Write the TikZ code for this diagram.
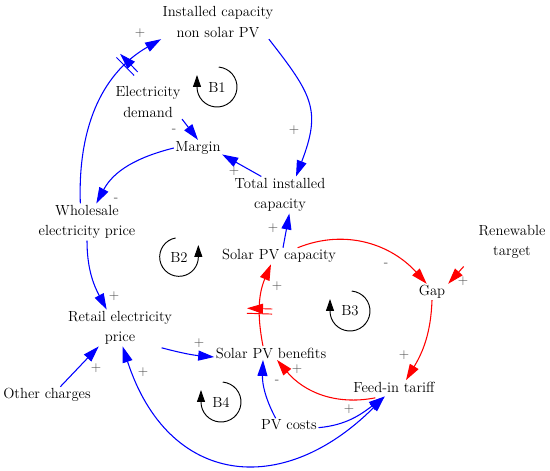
\documentclass[tikz,border=0pt]{standalone}
\usetikzlibrary{arrows.meta,decorations.markings}

\tikzset{
  var/.style={align=center, inner sep=1pt, font=\fontsize{11}{15.5}\selectfont},
  sgn/.style={inner sep=0pt, text=black!70, font=\fontsize{10}{12}\selectfont},
  link/.style={draw=blue, line width=0.8pt, -{Triangle[length=12pt,width=7.5pt]}},
  redlink/.style={link, draw=red},
  loopsym/.style={draw=black, line width=0.7pt, -{Triangle[length=9pt,width=6pt]}},
  delaymark/.style 2 args={postaction={decorate, decoration={markings, mark=at position #1 with {
      \draw[draw=#2, line width=0.7pt] (-1.9pt,-9.5pt) -- (-1.9pt,9.5pt) (1.9pt,-9.5pt) -- (1.9pt,9.5pt);}}}},
}

\begin{document}
\begin{tikzpicture}[x=0.75pt,y=0.75pt]
\useasboundingbox (0,0) rectangle (550,471);

% Variables
\node[var] (inst) at (218,449) {Installed capacity\\non solar PV};
\node[var] (dem) at (148,369) {Electricity\\demand};
\node[var] (mar) at (198,323) {Margin};
\node[var] (tot) at (280,276) {Total installed\\capacity};
\node[var] (wsp) at (87,249) {Wholesale\\electricity price};
\node[var] (spc) at (279,215) {Solar PV capacity};
\node[var] (ren) at (512,229) {Renewable\\target};
\node[var] (gap) at (432,179) {Gap};
\node[var] (rep) at (120,143) {Retail electricity\\price};
\node[var] (spb) at (271,118) {Solar PV benefits};
\node[var] (fit) at (394,84) {Feed-in tariff};
\node[var] (oth) at (47,76) {Other charges};
\node[var] (pvc) at (289,46) {PV costs};

% Loop markers
\node[var] (b1) at (217,384) {B1};
\node[var] (b2) at (179,214) {B2};
\node[var] (b3) at (350,160) {B3};
\node[var] (b4) at (221,69) {B4};
\draw[loopsym] ([shift={(85:15pt)}]b1.center) arc[start angle=85, end angle=-180, radius=15pt] -- ++(0,9pt);
\draw[loopsym] ([shift={(100:14.5pt)}]b2.center) arc[start angle=100, end angle=360, radius=14.5pt] -- ++(0,9pt);
\draw[loopsym] ([shift={(85:15pt)}]b3.center) arc[start angle=85, end angle=-180, radius=15pt] -- ++(0,9pt);
\draw[loopsym] ([shift={(85:15pt)}]b4.center) arc[start angle=85, end angle=-180, radius=15pt] -- ++(0,9pt);

% Blue links
\draw[link, delaymark={0.78}{blue}] ([xshift=-5pt]wsp.north) to[out=92, in=210] (inst.south west);
\draw[link] ([xshift=-4.5pt]inst.south east) to[out=-52, in=69, looseness=1.3] ([xshift=12pt]tot.north);
\draw[link] (dem.south east) -- (mar.north);
\draw[link] ([xshift=-14pt]tot.north) -- (mar.-15);
\draw[link] (mar.west) to[out=194, in=62] ([xshift=7pt]wsp.north);
\draw[link] (wsp.south) to[out=-90, in=118] ([xshift=-10pt]rep.north);
\draw[link] ([xshift=3pt]spc.north) -- ([xshift=7pt]tot.south);
\draw[link] ([xshift=-9pt,yshift=-1pt]rep.south east) to[bend right=5] ([yshift=-3pt]spb.west);
\draw[link] ([xshift=10pt]oth.north) -- ([xshift=-16pt]rep.south);
\draw[link] ([xshift=-10pt]pvc.north) to[out=118, in=268] ([xshift=-6pt]spb.south);
\draw[link] ([yshift=-2pt]pvc.east) to[out=5, in=217] ([xshift=-7pt,yshift=-2pt]fit.south);
\draw[link, {Triangle[length=12pt,width=7.5pt]}-{Triangle[length=12pt,width=7.5pt]}] ([xshift=2pt]rep.south) to[out=-72, in=225, looseness=1.4] ([xshift=-7pt,yshift=-2pt]fit.south);

% Red links
\draw[redlink] ([xshift=14pt]spc.north) to[out=22, in=132] ([xshift=-4pt]gap.north);
\draw[redlink] ([xshift=-10pt,yshift=-4.5pt]ren.south west) -- ([xshift=1pt]gap.north east);
\draw[redlink] (gap.south) to[out=-92, in=59] ([xshift=9pt]fit.north);
\draw[redlink] ([xshift=-14pt,yshift=-3pt]fit.south) to[out=191, in=-50] ([xshift=4.5pt]spb.south);
\draw[redlink, delaymark={0.42}{red}] ([xshift=-6pt]spb.north) to[out=101, in=247] ([xshift=-6pt]spc.south);

% Polarities
\node[sgn] (s1) at (140,438) {+};
\node[sgn] (s2) at (294,341) {+};
\node[sgn] (s3) at (174,340) {-};
\node[sgn] (s4) at (234,300) {+};
\node[sgn] (s5) at (116,271) {-};
\node[sgn] (s6) at (114,175) {+};
\node[sgn] (s7) at (273,243) {+};
\node[sgn] (s8) at (386,206) {-};
\node[sgn] (s9) at (463,190) {+};
\node[sgn] (s10) at (404,116) {+};
\node[sgn] (s11) at (297,102) {+};
\node[sgn] (s12) at (277,89) {-};
\node[sgn] (s13) at (277,185) {+};
\node[sgn] (s14) at (199,128) {+};
\node[sgn] (s15) at (96,103) {+};
\node[sgn] (s16) at (143,99) {+};
\node[sgn] (s17) at (349,62) {+};

\end{tikzpicture}
\end{document}
